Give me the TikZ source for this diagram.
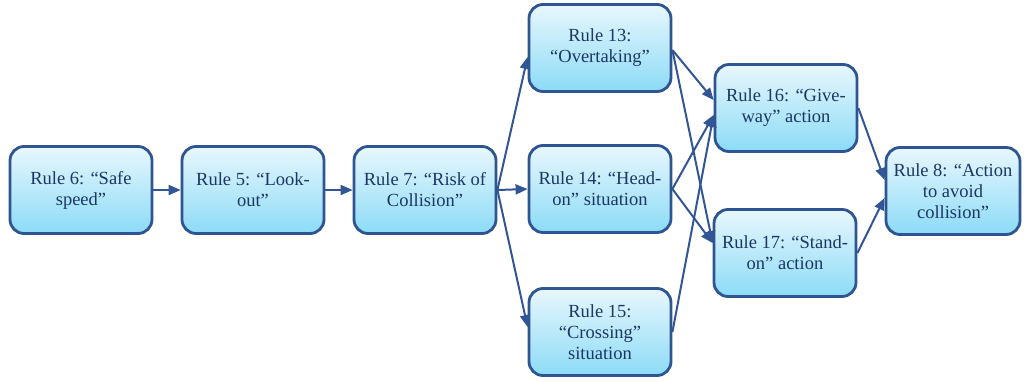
\documentclass[tikz,border=0pt]{standalone}
\usepackage{fontspec}
\setmainfont{Liberation Serif}
\newfontfamily\rulefont{Liberation Serif}
\usetikzlibrary{arrows.meta}
\definecolor{ruleline}{RGB}{46,84,145}
\definecolor{ruletext}{RGB}{28,55,100}
\definecolor{rulefillA}{RGB}{232,247,253}
\definecolor{rulefillB}{RGB}{140,219,247}
\definecolor{linkblue}{RGB}{50,85,150}
\begin{document}
\begin{tikzpicture}[x=1pt,y=1pt,
  rulebox/.style={draw=ruleline, line width=2.8pt, rounded corners=14pt, top color=rulefillA, bottom color=rulefillB,
    minimum width=142pt, minimum height=87pt, align=center, text=ruletext, font=\rulefont\fontsize{18.5}{21}\selectfont},
  link/.style={draw=linkblue, line width=2pt, -{Triangle[length=12pt,width=10pt]}}]
  \useasboundingbox (0,0) rectangle (1026,381);
  \node[rulebox] (r6) at (81,191) {Rule 6: “Safe\\speed”};
  \node[rulebox] (r5) at (253,191) {Rule 5: “Look-\\out”};
  \node[rulebox] (r7) at (425,191) {Rule 7: “Risk of\\Collision”};
  \node[rulebox] (r13) at (600,333) {Rule 13:\\“Overtaking”};
  \node[rulebox] (r14) at (600,192) {Rule 14: “Head-\\on” situation};
  \node[rulebox] (r15) at (600,49) {Rule 15:\\“Crossing”\\situation};
  \node[rulebox] (r16) at (786,273) {Rule 16: “Give-\\way” action};
  \node[rulebox] (r17) at (785,128) {Rule 17: “Stand-\\on” action};
  \node[rulebox, minimum width=134pt] (r8) at (953,190) {Rule 8: “Action\\to avoid\\collision”};
  \draw[link] (r6) -- (r5); \draw[link] (r5) -- (r7);
  \draw[link] (r7.east) -- ([yshift=-9pt]r13.west);
  \draw[link] (r7.east) -- (r14.west);
  \draw[link] (r7.east) -- ([yshift=5pt]r15.west);
  \draw[link] ([yshift=-2pt]r13.east) -- ([yshift=8pt]r16.west);
  \draw[link] ([yshift=-2pt]r13.east) -- ([yshift=10pt]r17.west);
  \draw[link] (r14.east) -- ([yshift=-7pt]r16.west);
  \draw[link] (r14.east) -- ([yshift=10pt]r17.west);
  \draw[link] (r15.east) -- ([yshift=-7pt]r16.west);
  \draw[link] (r16.east) -- ([yshift=11pt]r8.west);
  \draw[link] (r17.east) -- ([yshift=-7pt]r8.west);
\end{tikzpicture}
\end{document}
